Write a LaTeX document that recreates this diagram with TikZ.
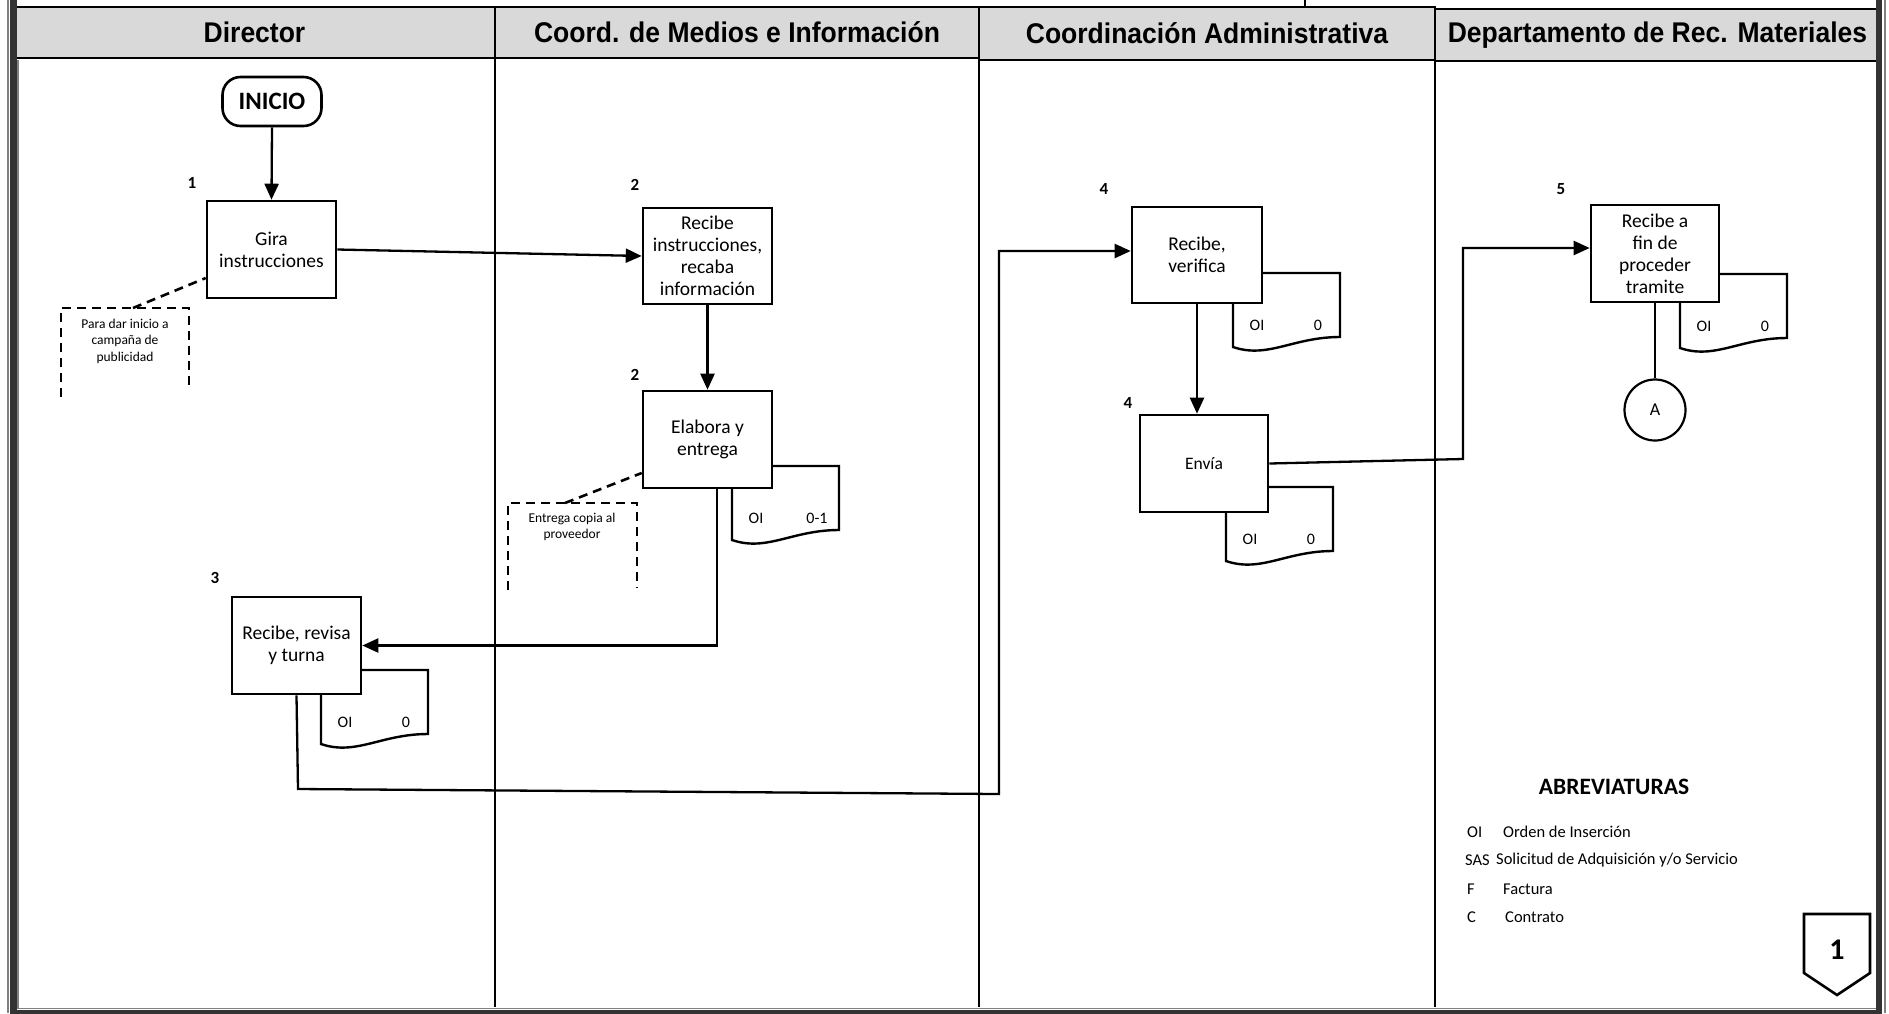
\documentclass[tikz,border=0pt]{standalone}
\usepackage{fontspec}
\setmainfont{Carlito}
\newfontfamily\hdrfont[FakeStretch=0.93]{Liberation Sans}
\usetikzlibrary{arrows.meta,calc}
\definecolor{headgray}{HTML}{D9D9D9}
\definecolor{framedark}{HTML}{333333}
\definecolor{framegray}{HTML}{808080}

% document symbol: #1 name, #2 left x, #3 top y, #4 second label
\newcommand\docsheet[4]{%
  \draw[docline] (#2,#3) -- (#2+107,#3) -- (#2+107,#3+64)
     .. controls (#2+60,#3+64) and (#2+35,#3+86) .. (#2,#3+74) -- cycle;
  \node[doclbl] (#1-oi) at (#2+24,#3+52) {OI};
  \node[doclbl] (#1-no) at (#2+85,#3+52) {#4};
}

\begin{document}
\begin{tikzpicture}[x=1pt,y=-1pt,
  every node/.style={inner sep=0pt},
  lanehead/.style={draw, line width=2.6pt, fill=headgray,
    font=\hdrfont\bfseries\fontsize{28.5}{30}\selectfont},
  procbox/.style={draw, line width=2.6pt, fill=white, align=center,
    minimum width=129pt, minimum height=97pt,
    font=\fontsize{19.5}{22}\selectfont},
  docline/.style={line width=2.4pt, fill=white},
  doclbl/.style={font=\fontsize{16}{16}\selectfont},
  stepno/.style={font=\bfseries\fontsize{17}{17}\selectfont},
  conn/.style={line width=2.3pt},
  arr/.style={conn, -{Triangle[length=16pt,width=14pt]}},
  notebox/.style={line width=2.6pt, dash pattern=on 9pt off 6pt},
  notetxt/.style={align=center, font=\fontsize{13.5}{16.5}\selectfont},
  abbr/.style={anchor=west, font=\fontsize{16.5}{18}\selectfont},
  abbrcode/.style={anchor=west, font=\fontsize{16.5}{18}\selectfont},
]
\useasboundingbox (0,0) rectangle (1889,1013);

% lane headers
\node[lanehead, minimum width=481pt, minimum height=51pt] (h1) at (254.5,32.5) {Director};
\node[lanehead, minimum width=484pt, minimum height=51pt] (h2) at (737,32.5) {Coord. de Medios e Información};
\node[lanehead, minimum width=456pt, minimum height=53pt] (h3) at (1207,33.5) {Coordinación Administrativa};
\node[lanehead, minimum width=445pt, minimum height=52pt] (h4) at (1657.5,35) {Departamento de Rec. Materiales};
\draw[line width=1.5pt] (1305,0) -- (1305,7);

% lane dividers
\foreach \lx in {495,979,1435}
  \draw[line width=2.6pt] (\lx,58) -- (\lx,1007);

% document symbols (behind the boxes)
\docsheet{d2}{732}{466}{0-1}
\docsheet{d3}{321}{670}{0}
\docsheet{d4a}{1233}{273}{0}
\docsheet{d4b}{1226}{487}{0}
\docsheet{d5}{1680}{274}{0}

% start terminal
\node[draw, line width=2.6pt, rounded corners=18pt, minimum width=99pt, minimum height=49pt,
      font=\bfseries\fontsize{25}{25}\selectfont] (inicio) at (272,101.5) {INICIO};

% process boxes
\node[procbox] (gira) at (271.5,249.5) {Gira\\instrucciones};
\node[procbox, minimum height=96pt] (rec) at (707.5,256) {Recibe\\instrucciones,\\recaba\\información};
\node[procbox] (elab) at (707.5,439.5) {Elabora y\\entrega};
\node[procbox] (rev) at (296.5,645.5) {Recibe, revisa\\y turna};
\node[procbox, minimum width=130pt, minimum height=96pt] (ver) at (1197,255) {Recibe,\\verifica};
\node[procbox, minimum width=128pt, font=\fontsize{17.5}{20}\selectfont] (env) at (1204,463.5) {Envía};
\node[procbox, minimum width=128pt] (fin) at (1655,253.5) {Recibe a\\fin de\\proceder\\tramite};

% step numbers
\node[stepno] (s1) at (192,183) {1};
\node[stepno] (s2a) at (635,185) {2};
\node[stepno] (s2b) at (635,375) {2};
\node[stepno] (s3) at (215,578) {3};
\node[stepno] (s4a) at (1104,189) {4};
\node[stepno] (s4b) at (1128,403) {4};
\node[stepno] (s5) at (1561,189) {5};

% connector circle
\node[draw, circle, line width=2.2pt, minimum size=61pt, font=\fontsize{18}{18}\selectfont] (A) at (1655,410) {A};

% flow
\draw[arr] (inicio.south) -- (gira.north);
\draw[arr] (gira.east) -- (rec.west);
\draw[arr] (rec.south) -- (elab.north);
\draw[arr] ([xshift=9.5pt]elab.south) |- (rev.east);
\coordinate (r1) at (298,789);
\coordinate (r2) at (999,794);
\coordinate (r3) at (999,251);
\draw[arr] (rev.south) -- (r1) -- (r2) -- (r3) -- (ver.west |- r3);
\draw[arr] (ver.south) -- (ver.south |- env.north);
\coordinate (e1) at (1463,459);
\coordinate (e2) at (1463,248);
\draw[arr] (env.east) -- (e1) -- (e2) -- (fin.west |- e2);
\draw[conn] (fin.south) -- (A.north);

% annotations
\draw[notebox] (61,397) -- (61,308) -- (189,308) -- (189,390);
\node[notetxt] (n1) at (125,341) {Para dar inicio a\\campaña de\\publicidad};
\coordinate (n1top) at (133,308);
\draw[notebox] (n1top) -- ($(gira.west)+(0,28.5)$);

\draw[notebox] (508,590) -- (508,503) -- (637,503) -- (637,588);
\node[notetxt] (n2) at (572,527) {Entrega copia al\\proveedor};
\coordinate (n2top) at (565,503);
\draw[notebox] (n2top) -- ($(elab.west)+(0,33.5)$);

% abbreviations
\node[font=\bfseries\fontsize{23.5}{24}\selectfont] (abt) at (1614,787) {ABREVIATURAS};
\node[abbrcode] (a1) at (1467,832) {OI};
\node[abbr] (a1t) at (1503,832) {Orden de Inserción};
\node[abbrcode] (a2) at (1465,860) {SAS};
\node[abbr] (a2t) at (1496,860) {Solicitud de Adquisición y/o Servicio};
\node[abbrcode] (a3) at (1467,889) {F};
\node[abbr] (a3t) at (1503,889) {Factura};
\node[abbrcode] (a4) at (1467,917) {C};
\node[abbr] (a4t) at (1505,917) {Contrato};

% off-page connector
\draw[line width=2.6pt, fill=white] (1804,914) -- (1870,914) -- (1870,973) -- (1837,995) -- (1804,973) -- cycle;
\node[font=\bfseries\fontsize{30}{30}\selectfont] (pg) at (1837,950) {1};

% outer frame
\draw[framegray, line width=2pt] (8,0) -- (8,1013);
\draw[framedark, line width=7pt] (13.5,0) -- (13.5,1013);
\draw[framegray, line width=1.2pt] (18,60) -- (18,1008);
\draw[framedark, line width=6pt] (1879,0) -- (1879,1013);
\draw[framegray, line width=2pt] (1885,0) -- (1885,1013);
\draw[framegray, line width=1.5pt] (17,1008.5) -- (1876,1008.5);
\draw[framedark, line width=4pt] (10,1011.5) -- (1882,1011.5);
\end{tikzpicture}
\end{document}
